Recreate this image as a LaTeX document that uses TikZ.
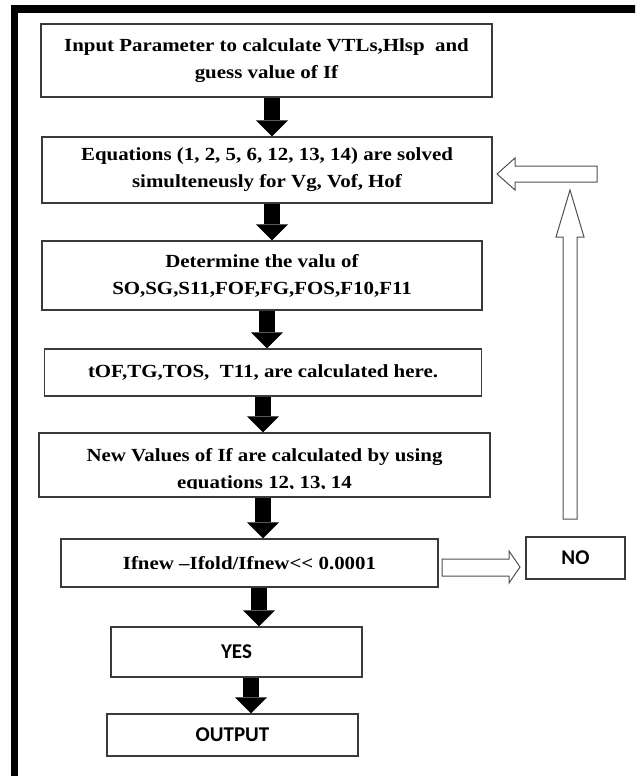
\documentclass[tikz,border=0pt]{standalone}
\usepackage{fontspec}
\setmainfont{Liberation Serif}[FakeStretch=1.13]
\newfontfamily\calib{Carlito}
\usetikzlibrary{arrows.meta,calc}
\definecolor{bord}{HTML}{3A3A3A}
\definecolor{hol}{HTML}{505050}
\tikzset{
 box/.style={draw=bord, line width=1.3pt, fill=white, inner sep=0pt, align=center,
   font=\fontsize{18.5}{27}\selectfont\bfseries},
 sbox/.style={box, font=\calib\fontsize{21}{25}\selectfont\bfseries},
 txt/.style={inner sep=0pt, align=center, font=\fontsize{18.5}{27}\selectfont\bfseries},
 blk/.style={line width=16pt, black, -{Triangle[width=32pt,length=16pt,line width=0pt]}},
 hollow/.style={draw=hol, line width=1pt, fill=white, line join=miter},
 frame/.style={line width=7.5pt, black, line join=miter},
}
\begin{document}
\begin{tikzpicture}[x=1pt,y=-1pt]
\useasboundingbox (0,0) rectangle (635,776);
\clip (0,0) rectangle (635,776);
\fill[white] (0,0) rectangle (635,776);
\draw[frame] (14.5,800) -- (14.5,9) -- (660,9);

\node[box, minimum width=451pt, minimum height=73pt] (b1) at (266.5,60.5)
  {Input Parameter to calculate VTLs,Hlsp\ \ and\\guess value of If};
\node[box, minimum width=450pt, minimum height=66pt] (b2) at (267,170)
  {Equations (1, 2, 5, 6, 12, 13, 14) are solved\\simulteneusly for Vg, Vof, Hof};
\node[box, minimum width=440pt, minimum height=69pt] (b3) at (262,275.5)
  {Determine the valu of\\SO,SG,S11,FOF,FG,FOS,F10,F11};
\node[box, minimum width=437pt, minimum height=47pt] (b4) at (263,372.5)
  {tOF,TG,TOS,\ \ T11, are calculated here.};
\node[box, minimum width=451pt, minimum height=64pt] (b5) at (264.5,465) {};
\begin{scope}
  \clip (b5.north west) rectangle ([yshift=9pt]b5.south east);
  \node[txt] (b5t) at ([yshift=-5pt]b5.center)
    {New Values of If are calculated by using\\equations 12, 13, 14};
\end{scope}
\node[box, minimum width=377pt, minimum height=48pt] (b6) at (249.5,563)
  {Ifnew --Ifold/Ifnew{<}{<} 0.0001};
\node[sbox, minimum width=251pt, minimum height=50pt] (yes) at (236.5,652) {YES};
\node[sbox, minimum width=251pt, minimum height=42pt] (out) at (232.5,735) {OUTPUT};
\node[sbox, minimum width=99pt, minimum height=42pt] (no) at (575.5,558) {NO};

\coordinate (x1) at (272,0);
\coordinate (x2) at (272,0);
\coordinate (x3) at (267,0);
\coordinate (x4) at (263,0);
\coordinate (x5) at (263,0);
\coordinate (x6) at (259,0);
\coordinate (x7) at (251,0);
\draw[blk] (b1.south -| x1) -- (b2.north -| x1);
\draw[blk] (b2.south -| x2) -- (b3.north -| x2);
\draw[blk] (b3.south -| x3) -- (b4.north -| x3);
\draw[blk] (b4.south -| x4) -- (b5.north -| x4);
\draw[blk] (b5.south -| x5) -- (b6.north -| x5);
\draw[blk] (b6.south -| x6) -- (yes.north -| x6);
\draw[blk] (yes.south -| x7) -- (out.north -| x7);

% hollow arrows
\draw[hollow] (497,174) -- (515,158) -- (515,166) -- (597,166) -- (597,182)
  -- (515,182) -- (515,190) -- cycle;
\draw[hollow] (570,190) -- (584,237) -- (577,237) -- (577,519) -- (563,519)
  -- (563,237) -- (556,237) -- cycle;
\draw[hollow] (520,567) -- (509,583) -- (509,576) -- (442,576) -- (442,559)
  -- (509,559) -- (509,551) -- cycle;
\end{tikzpicture}
\end{document}
